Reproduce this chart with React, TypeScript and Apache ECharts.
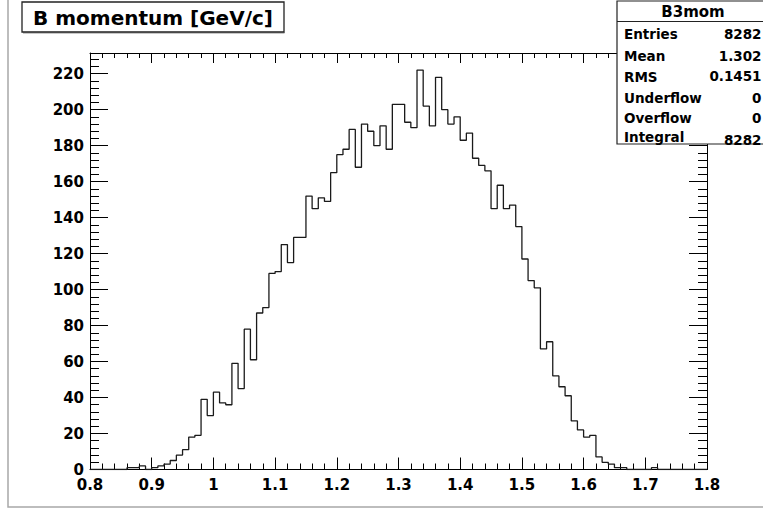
import React, { useEffect, useRef } from "react";
import * as echarts from "echarts";

// Histogram "B3mom": 100 bins from 0.8 to 1.8 GeV/c
const BIN_START = 0.8;
const BIN_WIDTH = 0.01;
const COUNTS = [
  0, 0, 0, 0, 0, 0, 1, 1, 2, 0,
  1, 2, 3, 5, 8, 11, 18, 19, 39, 30,
  43, 37, 36, 59, 45, 78, 61, 87, 90, 109,
  110, 125, 115, 129, 129, 152, 145, 151, 149, 165,
  175, 178, 189, 168, 192, 188, 180, 191, 178, 203,
  203, 193, 190, 222, 202, 191, 218, 200, 192, 196,
  183, 187, 173, 169, 166, 145, 158, 145, 147, 135,
  117, 105, 101, 67, 71, 52, 46, 41, 27, 22,
  18, 19, 7, 4, 3, 1, 1, 0, 0, 0,
  0, 1, 0, 0, 0, 0, 0, 0, 0, 0,
];

const X_MIN = 0.8;
const X_MAX = 1.8;
const Y_MAX = 231.5;
const TITLE = "B momentum [GeV/c]";
const STATS_NAME = "B3mom";
const STAT_LABELS = ["Entries", "Mean", "RMS", "Underflow", "Overflow", "Integral"];
const STAT_VALUES = ["8282", "1.302", "0.1451", "0", "0", "8282"];

const FONT = '"DejaVu Sans", "Liberation Sans", sans-serif';

export default function App() {
  const ref = useRef<HTMLDivElement>(null);

  useEffect(() => {
    if (!ref.current) return;
    const chart = echarts.init(ref.current, null, { renderer: "svg" });

    const pts: number[][] = COUNTS.map((c, i) => [
      +(BIN_START + i * BIN_WIDTH).toFixed(4),
      c,
    ]);
    pts.push([+(BIN_START + COUNTS.length * BIN_WIDTH).toFixed(4), COUNTS[COUNTS.length - 1]]);

    const black = "#000";
    const baseX = {
      type: "value" as const,
      min: X_MIN,
      max: X_MAX,
      interval: 0.1,
      splitLine: { show: false },
      minorSplitLine: { show: false },
      axisLine: { show: true, onZero: false, lineStyle: { color: black, width: 1 } },
    };
    const baseY = {
      type: "value" as const,
      min: 0,
      max: Y_MAX,
      splitLine: { show: false },
      minorSplitLine: { show: false },
    };

    const yFmt = (v: number) => {
      const r = Math.round(v);
      return Math.abs(v - r) < 1e-6 && r % 20 === 0 && r <= 220 ? String(r) : "";
    };

    const statsTop = 1;
    const statsLeft = 617;
    const rowY = [34, 56, 76.5, 98, 118, 137];
    const valY = [34, 56, 76, 98, 118, 140];

    const graphics: any[] = [
      {
        type: "polyline",
        z: 100,
        shape: { points: [[8, 0], [8, 507], [763, 507]] },
        style: { stroke: "#a8a8a8", lineWidth: 1.5, fill: "none" },
      },
      {
        type: "rect",
        z: 100,
        shape: { x: 22, y: 2, width: 262, height: 30 },
        style: { fill: "#fff", stroke: "#222", lineWidth: 1.3 },
      },
      {
        type: "line",
        z: 100,
        shape: { x1: 23, y1: 32.8, x2: 284.5, y2: 32.8 },
        style: { stroke: "#444", lineWidth: 1 },
      },
      {
        type: "text",
        z: 101,
        x: 153,
        y: 17.5,
        style: {
          text: TITLE,
          font: `bold 20px ${FONT}`,
          fill: "#000",
          align: "center",
          verticalAlign: "middle",
        },
      },
      {
        type: "rect",
        z: 100,
        shape: { x: statsLeft, y: statsTop, width: 160, height: 143 },
        style: { fill: "#fff", stroke: "#222", lineWidth: 1.2 },
      },
      {
        type: "line",
        z: 101,
        shape: { x1: statsLeft, y1: 21.5, x2: 763, y2: 21.5 },
        style: { stroke: "#222", lineWidth: 1.2 },
      },
      {
        type: "text",
        z: 101,
        x: 693,
        y: 11.5,
        style: {
          text: STATS_NAME,
          font: `bold 15px ${FONT}`,
          fill: "#000",
          align: "center",
          verticalAlign: "middle",
        },
      },
    ];
    STAT_LABELS.forEach((lab, i) => {
      graphics.push({
        type: "text",
        z: 101,
        x: 624,
        y: rowY[i],
        style: {
          text: lab,
          font: `bold 13.5px ${FONT}`,
          fill: "#000",
          align: "left",
          verticalAlign: "middle",
        },
      });
      graphics.push({
        type: "text",
        z: 101,
        x: 761.5,
        y: valY[i],
        style: {
          text: STAT_VALUES[i],
          font: `bold 13.5px ${FONT}`,
          fill: "#000",
          align: "right",
          verticalAlign: "middle",
        },
      });
    });

    chart.setOption({
      animation: false,
      backgroundColor: "#fff",
      grid: { left: 90, top: 53, width: 617, height: 416.5, containLabel: false },
      xAxis: [
        {
          ...baseX,
          position: "bottom",
          axisTick: { show: true, inside: true, length: 12, lineStyle: { color: black, width: 1 } },
          minorTick: { show: true, splitNumber: 5, length: 6, lineStyle: { color: black, width: 1 } },
          axisLabel: {
            show: true,
            margin: 8,
            fontFamily: FONT,
            fontWeight: "bold",
            fontSize: 15,
            color: black,
            formatter: (v: number) => String(parseFloat(v.toFixed(2))),
          },
        },
        {
          ...baseX,
          position: "top",
          axisTick: { show: true, inside: true, length: 10, lineStyle: { color: black, width: 1 } },
          minorTick: { show: true, splitNumber: 5, length: 5, lineStyle: { color: black, width: 1 } },
          axisLabel: { show: false },
        },
      ],
      yAxis: [
        {
          ...baseY,
          position: "left",
          interval: 20,
          axisLine: { show: true, onZero: false, lineStyle: { color: black, width: 1 } },
          axisTick: { show: true, inside: true, length: 18, lineStyle: { color: black, width: 1 } },
          axisLabel: {
            show: true,
            margin: 6,
            fontFamily: FONT,
            fontWeight: "bold",
            fontSize: 15,
            color: black,
            formatter: yFmt,
          },
        },
        {
          ...baseY,
          position: "left",
          interval: 4,
          axisLine: { show: false },
          axisTick: { show: true, inside: true, length: 9, lineStyle: { color: black, width: 1 } },
          axisLabel: { show: false },
        },
        {
          ...baseY,
          position: "right",
          interval: 20,
          axisLine: { show: true, onZero: false, lineStyle: { color: black, width: 1 } },
          axisTick: { show: true, inside: true, length: 18, lineStyle: { color: black, width: 1 } },
          axisLabel: { show: false },
        },
        {
          ...baseY,
          position: "right",
          interval: 4,
          axisLine: { show: false },
          axisTick: { show: true, inside: true, length: 9, lineStyle: { color: black, width: 1 } },
          axisLabel: { show: false },
        },
      ],
      series: [
        {
          type: "line",
          xAxisIndex: 0,
          yAxisIndex: 0,
          step: "end",
          data: pts,
          showSymbol: false,
          symbol: "none",
          lineStyle: { color: "#1a1a1a", width: 1.3 },
          z: 5,
        },
      ],
      graphic: graphics,
    });

    return () => chart.dispose();
  }, []);

  return (
    <div
      ref={ref}
      style={{ position: "absolute", left: 0, top: 0, width: 763, height: 513 }}
    />
  );
}
